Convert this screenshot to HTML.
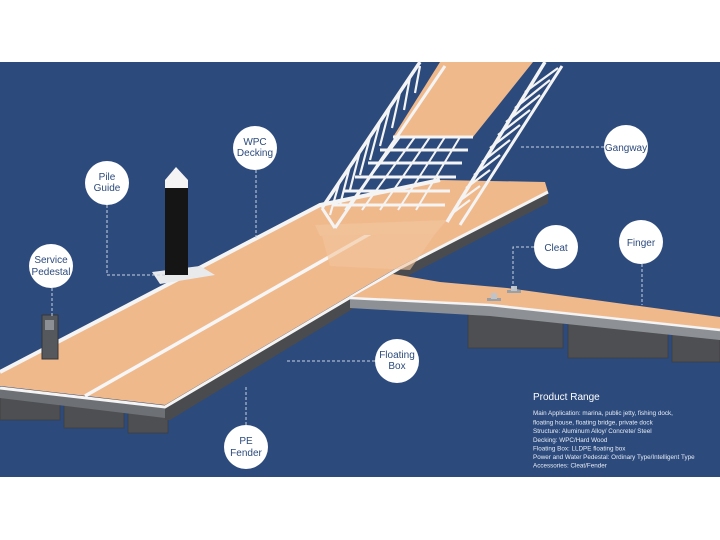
<!DOCTYPE html>
<html><head><meta charset="utf-8"><style>
html,body{margin:0;padding:0;background:#fff}
svg{display:block}
text{font-family:"Liberation Sans",sans-serif}
</style></head><body>
<svg width="720" height="540" viewBox="0 0 720 540" xmlns="http://www.w3.org/2000/svg">
<rect x="0" y="0" width="720" height="540" fill="#fff"/>
<rect x="0" y="62" width="720" height="415" fill="#2c4a7c"/>

<!-- main dock floats -->
<g fill="#4e4f52" stroke="#3a3b3d" stroke-width="0.6">
<rect x="0" y="390" width="60" height="30"/>
<rect x="64" y="398" width="60" height="30"/>
<rect x="128" y="405" width="40" height="28"/>
</g>
<!-- main dock side face -->
<polygon points="165,405 400,268 548,192 548,203 400,280 170,420 165,420" fill="#4a4b4e"/>
<polygon points="0,388 165,408 165,418 0,398" fill="#6d7075"/>
<!-- main deck -->
<polygon points="0,372 320,205 440,180 545,182 548,192 400,266 165,405 0,386" fill="#efb98c"/>
<polyline points="0,372 320,205 440,180" stroke="#f4f4f4" stroke-width="4" fill="none"/>
<polyline points="0,388 165,407 400,268 548,192" stroke="#f4f4f4" stroke-width="3" fill="none"/>
<line x1="85" y1="396" x2="380" y2="228" stroke="#f6f6f6" stroke-width="3.5"/>

<!-- finger floats -->
<g fill="#4e4f52" stroke="#3a3b3d" stroke-width="0.6">
<rect x="468" y="312" width="95" height="36"/>
<rect x="568" y="320" width="100" height="38"/>
<rect x="672" y="326" width="48" height="36"/>
</g>
<!-- finger side -->
<polygon points="350,298 490,306 720,330 720,340 490,316 350,308" fill="#8d9196"/>
<!-- finger deck -->
<polygon points="393,274 440,282 507,288 720,317 720,330 490,305 350,298" fill="#efb98c"/>
<polyline points="350,298 490,305 720,330" stroke="#f4f4f4" stroke-width="2.5" fill="none"/>
<line x1="393" y1="272" x2="350" y2="297" stroke="#f4f4f4" stroke-width="2"/>
<!-- cleats -->
<rect x="487" y="298" width="14" height="3" fill="#9aa0a6"/><rect x="491" y="293" width="6" height="6" fill="#c0c4c8"/>
<rect x="507" y="290" width="14" height="3" fill="#9aa0a6"/><rect x="511" y="286" width="6" height="5" fill="#c0c4c8"/>

<!-- ramp plate -->
<polygon points="315,225 447,220 435,234 320,236" fill="#f1c198"/>
<polygon points="322,236 435,234 410,270 330,266" fill="#f3c49c" opacity="0.6"/>

<!-- pile -->
<polygon points="152,272 200,266 215,275 160,284" fill="#e9eaec"/>
<rect x="165" y="180" width="23" height="95" fill="#151515"/>
<polygon points="165,180 176,167 188,180 188,188 165,188" fill="#f4f4f4"/>
<!-- pedestal -->
<rect x="42" y="315" width="16" height="44" fill="#55585c" stroke="#33363a" stroke-width="1"/>
<rect x="45" y="320" width="9" height="10" fill="#8d9196"/>

<!-- gangway deck -->
<polygon points="440,62 533,62 473,137 393,137" fill="#efb98c"/>
<g stroke="#f4f4f4" stroke-width="3" fill="none">
<line x1="393" y1="137" x2="473" y2="137"/>
<line x1="380" y1="150" x2="468" y2="150"/>
<line x1="368" y1="163" x2="462" y2="163"/>
<line x1="355" y1="177" x2="456" y2="177"/>
<line x1="343" y1="191" x2="450" y2="191"/>
<line x1="333" y1="205" x2="445" y2="205"/>
</g>
<g stroke="#f4f4f4" stroke-width="2" fill="none">
<line x1="400" y1="137" x2="345" y2="210"/><line x1="415" y1="137" x2="362" y2="210"/>
<line x1="430" y1="137" x2="380" y2="210"/><line x1="445" y1="137" x2="398" y2="210"/>
<line x1="460" y1="137" x2="416" y2="210"/>
</g>
<g stroke="#f4f4f4" fill="none">
<line x1="322" y1="208" x2="420" y2="62" stroke-width="3.5"/>
<line x1="335" y1="228" x2="445" y2="66" stroke-width="3"/>
<line x1="322" y1="208" x2="335" y2="228" stroke-width="3"/>
<path d="M330,215 L340,180 M340,205 L350,166 M350,190 L360,151 M360,175 L370,137 M370,160 L380,122 M380,146 L390,107 M392,128 L400,92 M404,110 L410,77 M415,93 L420,66" stroke-width="2.2"/>
</g>
<g stroke="#f4f4f4" fill="none">
<line x1="447" y1="222" x2="545" y2="62" stroke-width="3.5"/>
<line x1="460" y1="225" x2="562" y2="66" stroke-width="3"/>
<path d="M450,215 L470,200 M458,202 L480,186 M466,188 L490,170 M474,175 L500,155 M482,162 L510,140 M490,148 L520,125 M498,135 L530,110 M506,122 L540,95 M515,108 L550,80 M525,92 L558,68" stroke-width="2.2"/>
</g>

<!-- leaders -->
<g stroke="#c9d3e3" stroke-width="1" stroke-dasharray="3,2" fill="none">
<polyline points="256,170 256,240"/>
<polyline points="107,205 107,275 165,275"/>
<polyline points="52,288 52,316"/>
<polyline points="604,147 520,147"/>
<polyline points="534,247 513,247 513,290"/>
<polyline points="642,264 642,305"/>
<polyline points="375,361 285,361"/>
<polyline points="246,425 246,385"/>
</g>

<g fill="#fff">
<circle cx="255" cy="148" r="22"/><circle cx="107" cy="183" r="22"/><circle cx="51" cy="266" r="22"/>
<circle cx="626" cy="147" r="22"/><circle cx="556" cy="247" r="22"/><circle cx="641" cy="242" r="22"/>
<circle cx="397" cy="361" r="22"/><circle cx="246" cy="447" r="22"/>
</g>
<g fill="#2c4a7c" font-size="10" text-anchor="middle">
<text x="255" y="145">WPC</text><text x="255" y="156">Decking</text>
<text x="107" y="180">Pile</text><text x="107" y="191">Guide</text>
<text x="51" y="263">Service</text><text x="51" y="275">Pedestal</text>
<text x="626" y="151">Gangway</text>
<text x="556" y="251">Cleat</text>
<text x="641" y="246">Finger</text>
<text x="397" y="358">Floating</text><text x="397" y="369">Box</text>
<text x="246" y="444">PE</text><text x="246" y="456">Fender</text>
</g>

<text x="533" y="400" fill="#fff" font-size="10">Product Range</text>
<g fill="#e8edf5" font-size="6.3">
<text x="533" y="415">Main Application: marina, public jetty, fishing dock,</text>
<text x="533" y="424.5">floating house, floating bridge, private dock</text>
<text x="533" y="433">Structure: Aluminum Alloy/ Concrete/ Steel</text>
<text x="533" y="442">Decking: WPC/Hard Wood</text>
<text x="533" y="450.5">Floating Box: LLDPE floating box</text>
<text x="533" y="459">Power and Water Pedestal: Ordinary Type/Intelligent Type</text>
<text x="533" y="467.5">Accessories: Cleat/Fender</text>
</g>
</svg>
</body></html>
